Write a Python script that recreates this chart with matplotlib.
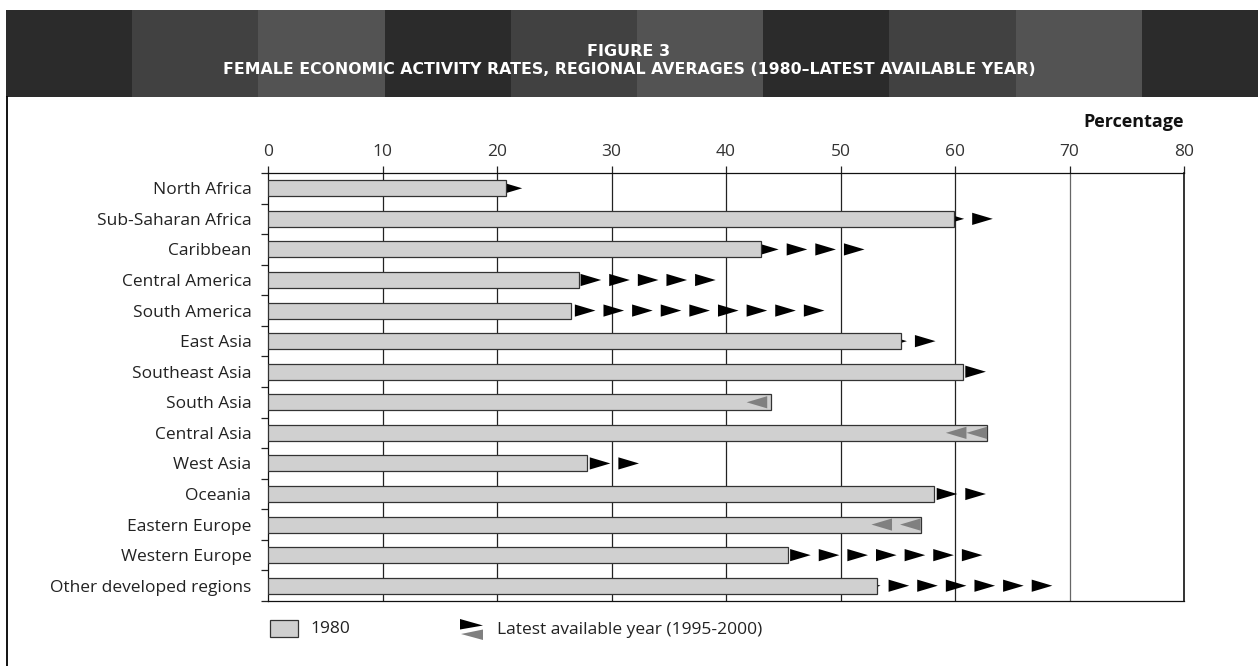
import numpy as np
import matplotlib
matplotlib.use("Agg")
import matplotlib.pyplot as plt
from matplotlib.patches import Rectangle, Polygon

plt.rcParams['font.family'] = ['Open Sans', 'DejaVu Sans']

# ------------ Data ---------------
regions = ["North Africa", "Sub-Saharan Africa", "Caribbean", "Central America",
           "South America", "East Asia", "Southeast Asia", "South Asia",
           "Central Asia", "West Asia", "Oceania", "Eastern Europe",
           "Western Europe", "Other developed regions"]
rate_1980 = [20.8, 59.9, 43.1, 27.2, 26.5, 55.3, 60.7, 43.9, 62.8, 27.9, 58.2, 57.0, 45.4, 53.2]
rate_latest = [22.2, 63.3, 52.1, 39.1, 48.6, 58.3, 62.7, 41.8, 59.2, 32.4, 62.7, 52.7, 62.4, 68.5]
x_ticks = [0, 10, 20, 30, 40, 50, 60, 70, 80]

title = "FIGURE 3"
subtitle = "FEMALE ECONOMIC ACTIVITY RATES, REGIONAL AVERAGES (1980\u2013LATEST AVAILABLE YEAR)"

W, H = 1258, 666
FS = 12.5
fig = plt.figure(figsize=(W / 100, H / 100), dpi=100)

# background layer in pixel coords: header band, frame line, legend
bg = fig.add_axes([0, 0, 1, 1], zorder=0)
bg.set_xlim(0, W)
bg.set_ylim(H, 0)
bg.axis('off')

stripe_cols = ['#2b2b2b', '#414141', '#535353']
for k in range(10):
    bg.add_patch(Rectangle((6 + k * 126.2, 10), 126.2, 87, color=stripe_cols[k % 3], lw=0))
bg.plot([6.5, 6.5], [97, H], color='black', lw=1.3)

head_font = ['DejaVu Sans']
bg.text(629, 51, title, ha='center', va='center', color='white',
        fontsize=11.5, fontweight='bold', family=head_font)
bg.text(629, 69, subtitle, ha='center', va='center', color='white',
        fontsize=11.3, fontweight='bold', family=head_font)
bg.text(1184, 122, "Percentage", ha='right', va='center', fontsize=13,
        fontweight='bold', color='#111111')

# legend
bg.add_patch(Rectangle((270, 620), 28, 17, fc='#d0d0d0', ec='#333333', lw=0.9))
bg.text(310, 629, "1980", va='center', fontsize=FS, color='#222222')
bg.add_patch(Polygon([(460, 619), (483, 625.5), (460, 629.5)], closed=True, fc='black', lw=0))
bg.add_patch(Polygon([(483, 629.5), (461, 634), (483, 640)], closed=True, fc='#808080', lw=0))
bg.text(497, 630, "Latest available year (1995-2000)", va='center', fontsize=FS, color='#222222')

# ------------ Main chart ---------------
ax = fig.add_axes([268 / W, 1 - 601 / H, 916 / W, 428 / H], zorder=1)
y = np.arange(len(regions))
ax.set_xlim(0, 80)
ax.set_ylim(len(regions) - 0.5, -0.5)

ax.barh(y, rate_1980, height=0.52, color='#d0d0d0', edgecolor='#333333',
        linewidth=0.9, zorder=3)

for v in x_ticks[1:-1]:
    ax.axvline(v, color='#222222' if v < 70 else '#666666', lw=0.9, zorder=1)

# arrows: rises drawn under the bar, declines drawn on top in grey
aw, ah, pitch = 1.8, 0.2, 2.5
for i, (a, b) in enumerate(zip(rate_1980, rate_latest)):
    if b >= a:
        t = b
        while t > a:
            ax.add_patch(Polygon([(t - aw, i - ah), (t, i), (t - aw, i + ah)],
                                 closed=True, fc='black', lw=0, zorder=2))
            t -= pitch
    else:
        n = max(1, int(round((a - b) / 2.2)))
        step = (a - b - aw) / (n - 1) if n > 1 else 0
        for k in range(n):
            t = b + k * step
            ax.add_patch(Polygon([(t + aw, i - ah), (t, i), (t + aw, i + ah)],
                                 closed=True, fc='#808080', lw=0, zorder=4))

ax.xaxis.tick_top()
ax.set_xticks(x_ticks)
ax.set_xticklabels([str(v) for v in x_ticks])
ax.tick_params(axis='x', length=5, width=0.9, color='#222222', pad=4,
               labelsize=FS, labelcolor='#333333')

ax.set_yticks(y)
ax.set_yticklabels(regions)
ax.set_yticks(np.arange(-0.5, len(regions), 1), minor=True)
ax.tick_params(axis='y', which='major', length=0, pad=12, labelsize=FS, labelcolor='#222222')
ax.tick_params(axis='y', which='minor', length=5, width=0.9, color='#222222')

for s in ax.spines.values():
    s.set_color('#111111')
    s.set_linewidth(0.9)
ax.spines['right'].set_linewidth(1.2)

fig.savefig("out.png", dpi=100)
